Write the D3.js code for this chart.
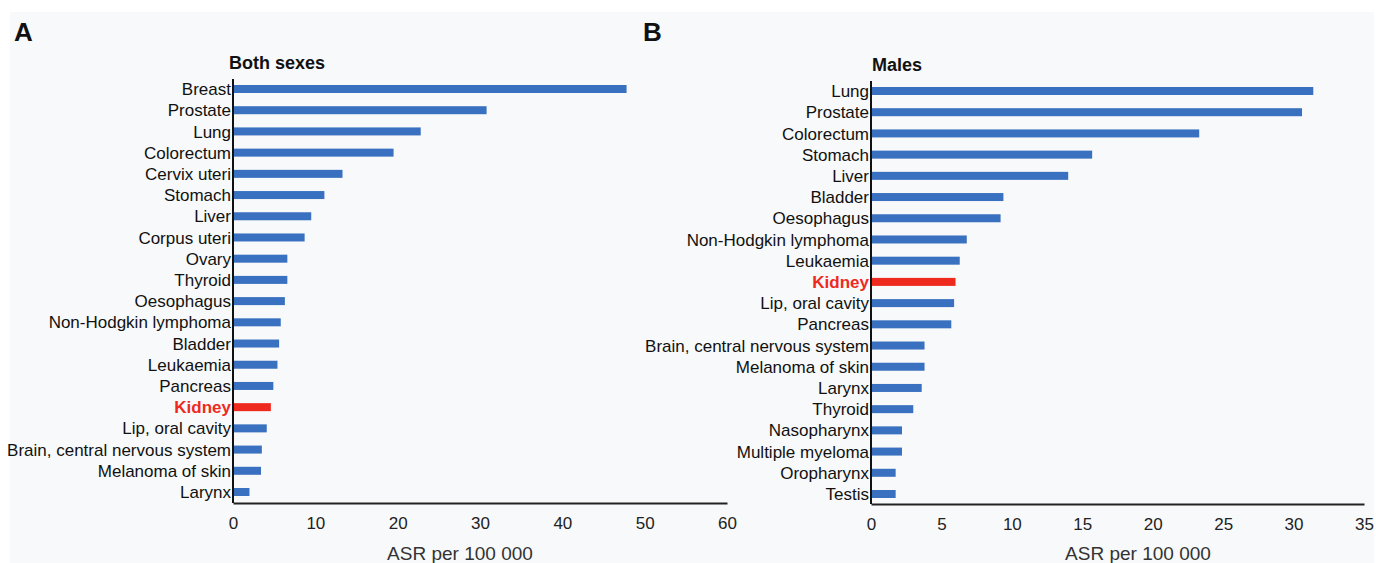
<!DOCTYPE html>
<html><head><meta charset="utf-8">
<script src="https://cdn.jsdelivr.net/npm/d3@7"></script>
<style>
html,body{margin:0;padding:0;background:#fff;}
svg{display:block;}
</style></head>
<body>
<svg id="c" width="1376" height="563"></svg>
<script>
// ---- data ----
const catsA = ["Breast","Prostate","Lung","Colorectum","Cervix uteri","Stomach","Liver","Corpus uteri","Ovary","Thyroid","Oesophagus","Non-Hodgkin lymphoma","Bladder","Leukaemia","Pancreas","Kidney","Lip, oral cavity","Brain, central nervous system","Melanoma of skin","Larynx"];
const valsA = [47.8,30.8,22.8,19.5,13.3,11.1,9.5,8.7,6.6,6.6,6.3,5.8,5.6,5.4,4.9,4.6,4.1,3.5,3.4,2.0];
const catsB = ["Lung","Prostate","Colorectum","Stomach","Liver","Bladder","Oesophagus","Non-Hodgkin lymphoma","Leukaemia","Kidney","Lip, oral cavity","Pancreas","Brain, central nervous system","Melanoma of skin","Larynx","Thyroid","Nasopharynx","Multiple myeloma","Oropharynx","Testis"];
const valsB = [31.4,30.6,23.3,15.7,14.0,9.4,9.2,6.8,6.3,6.0,5.9,5.7,3.8,3.8,3.6,3.0,2.2,2.2,1.75,1.75];
const ticksA = [0,10,20,30,40,50,60];
const ticksB = [0,5,10,15,20,25,30,35];
const highlight = "Kidney";
const panelLetters = ["A","B"];
const titles = ["Both sexes","Males"];
const axisTitle = "ASR per 100 000";

const svg = d3.select("#c");
svg.append("rect").attr("x",10).attr("y",12).attr("width",1364).attr("height",551).attr("fill","#f8f9fa");

const BLUE="#3a70c0", RED="#ee2a1f";
const FONT = "'Liberation Sans',Arial,sans-serif";

function panel(cfg){
  const g = svg.append("g");
  const x = d3.scaleLinear().domain([0,cfg.max]).range([cfg.x0,cfg.x1]);
  const y = d3.scalePoint().domain(cfg.cats).range([cfg.yTop,cfg.yBot]);
  const data = cfg.cats.map((c,i)=>({c,v:cfg.vals[i]}));
  const bh = 8;
  g.selectAll("rect.bar").data(data).join("rect")
    .attr("x",x(0)).attr("y",d=>y(d.c)-bh/2)
    .attr("width",d=>x(d.v)-x(0)).attr("height",bh)
    .attr("fill",d=>d.c===highlight?RED:BLUE);
  // y labels
  g.selectAll("text.lab").data(data).join("text")
    .attr("x",x(0)-2).attr("y",d=>y(d.c)).attr("dy","0.36em")
    .attr("text-anchor","end")
    .style("font-family",FONT).style("font-size","17px")
    .style("font-weight",d=>d.c===highlight?"bold":"normal")
    .attr("fill",d=>d.c===highlight?RED:"#111")
    .text(d=>d.c);
  // x axis
  const ax = g.append("g").attr("transform",`translate(0,${cfg.axisY})`)
    .call(d3.axisBottom(x).tickValues(cfg.ticks).tickSize(0).tickPadding(14).tickFormat(d3.format("d")));
  ax.select(".domain").attr("stroke","#222").attr("stroke-width",2);
  ax.selectAll("text").style("font-family",FONT).style("font-size","17px").attr("fill","#222");
  // y axis line
  g.append("line").attr("x1",x(0)).attr("x2",x(0)).attr("y1",cfg.yAxisTop).attr("y2",cfg.axisY)
    .attr("stroke","#111").attr("stroke-width",2);
  // titles
  g.append("text").attr("x",cfg.titleX).attr("y",cfg.titleY)
    .style("font-family",FONT).style("font-size","18px").style("font-weight","bold")
    .attr("fill","#111").text(cfg.title);
  g.append("text").attr("x",cfg.letterX).attr("y",41)
    .style("font-family",FONT).style("font-size","26px").style("font-weight","bold")
    .attr("fill","#111").text(cfg.letter);
  g.append("text").attr("x",cfg.axTitleX).attr("y",560).attr("text-anchor","middle")
    .style("font-family",FONT).style("font-size","19px")
    .attr("fill","#333").text(axisTitle);
}

panel({cats:catsA,vals:valsA,max:60,ticks:ticksA,x0:233,x1:727,yTop:89,yBot:492,axisY:503,yAxisTop:79,
  title:titles[0],titleX:229,titleY:69,letter:panelLetters[0],letterX:14,axTitleX:460});
panel({cats:catsB,vals:valsB,max:35,ticks:ticksB,x0:871,x1:1364,yTop:91,yBot:494,axisY:504,yAxisTop:81,
  title:titles[1],titleX:872,titleY:71,letter:panelLetters[1],letterX:643,axTitleX:1138});
</script>
</body></html>
